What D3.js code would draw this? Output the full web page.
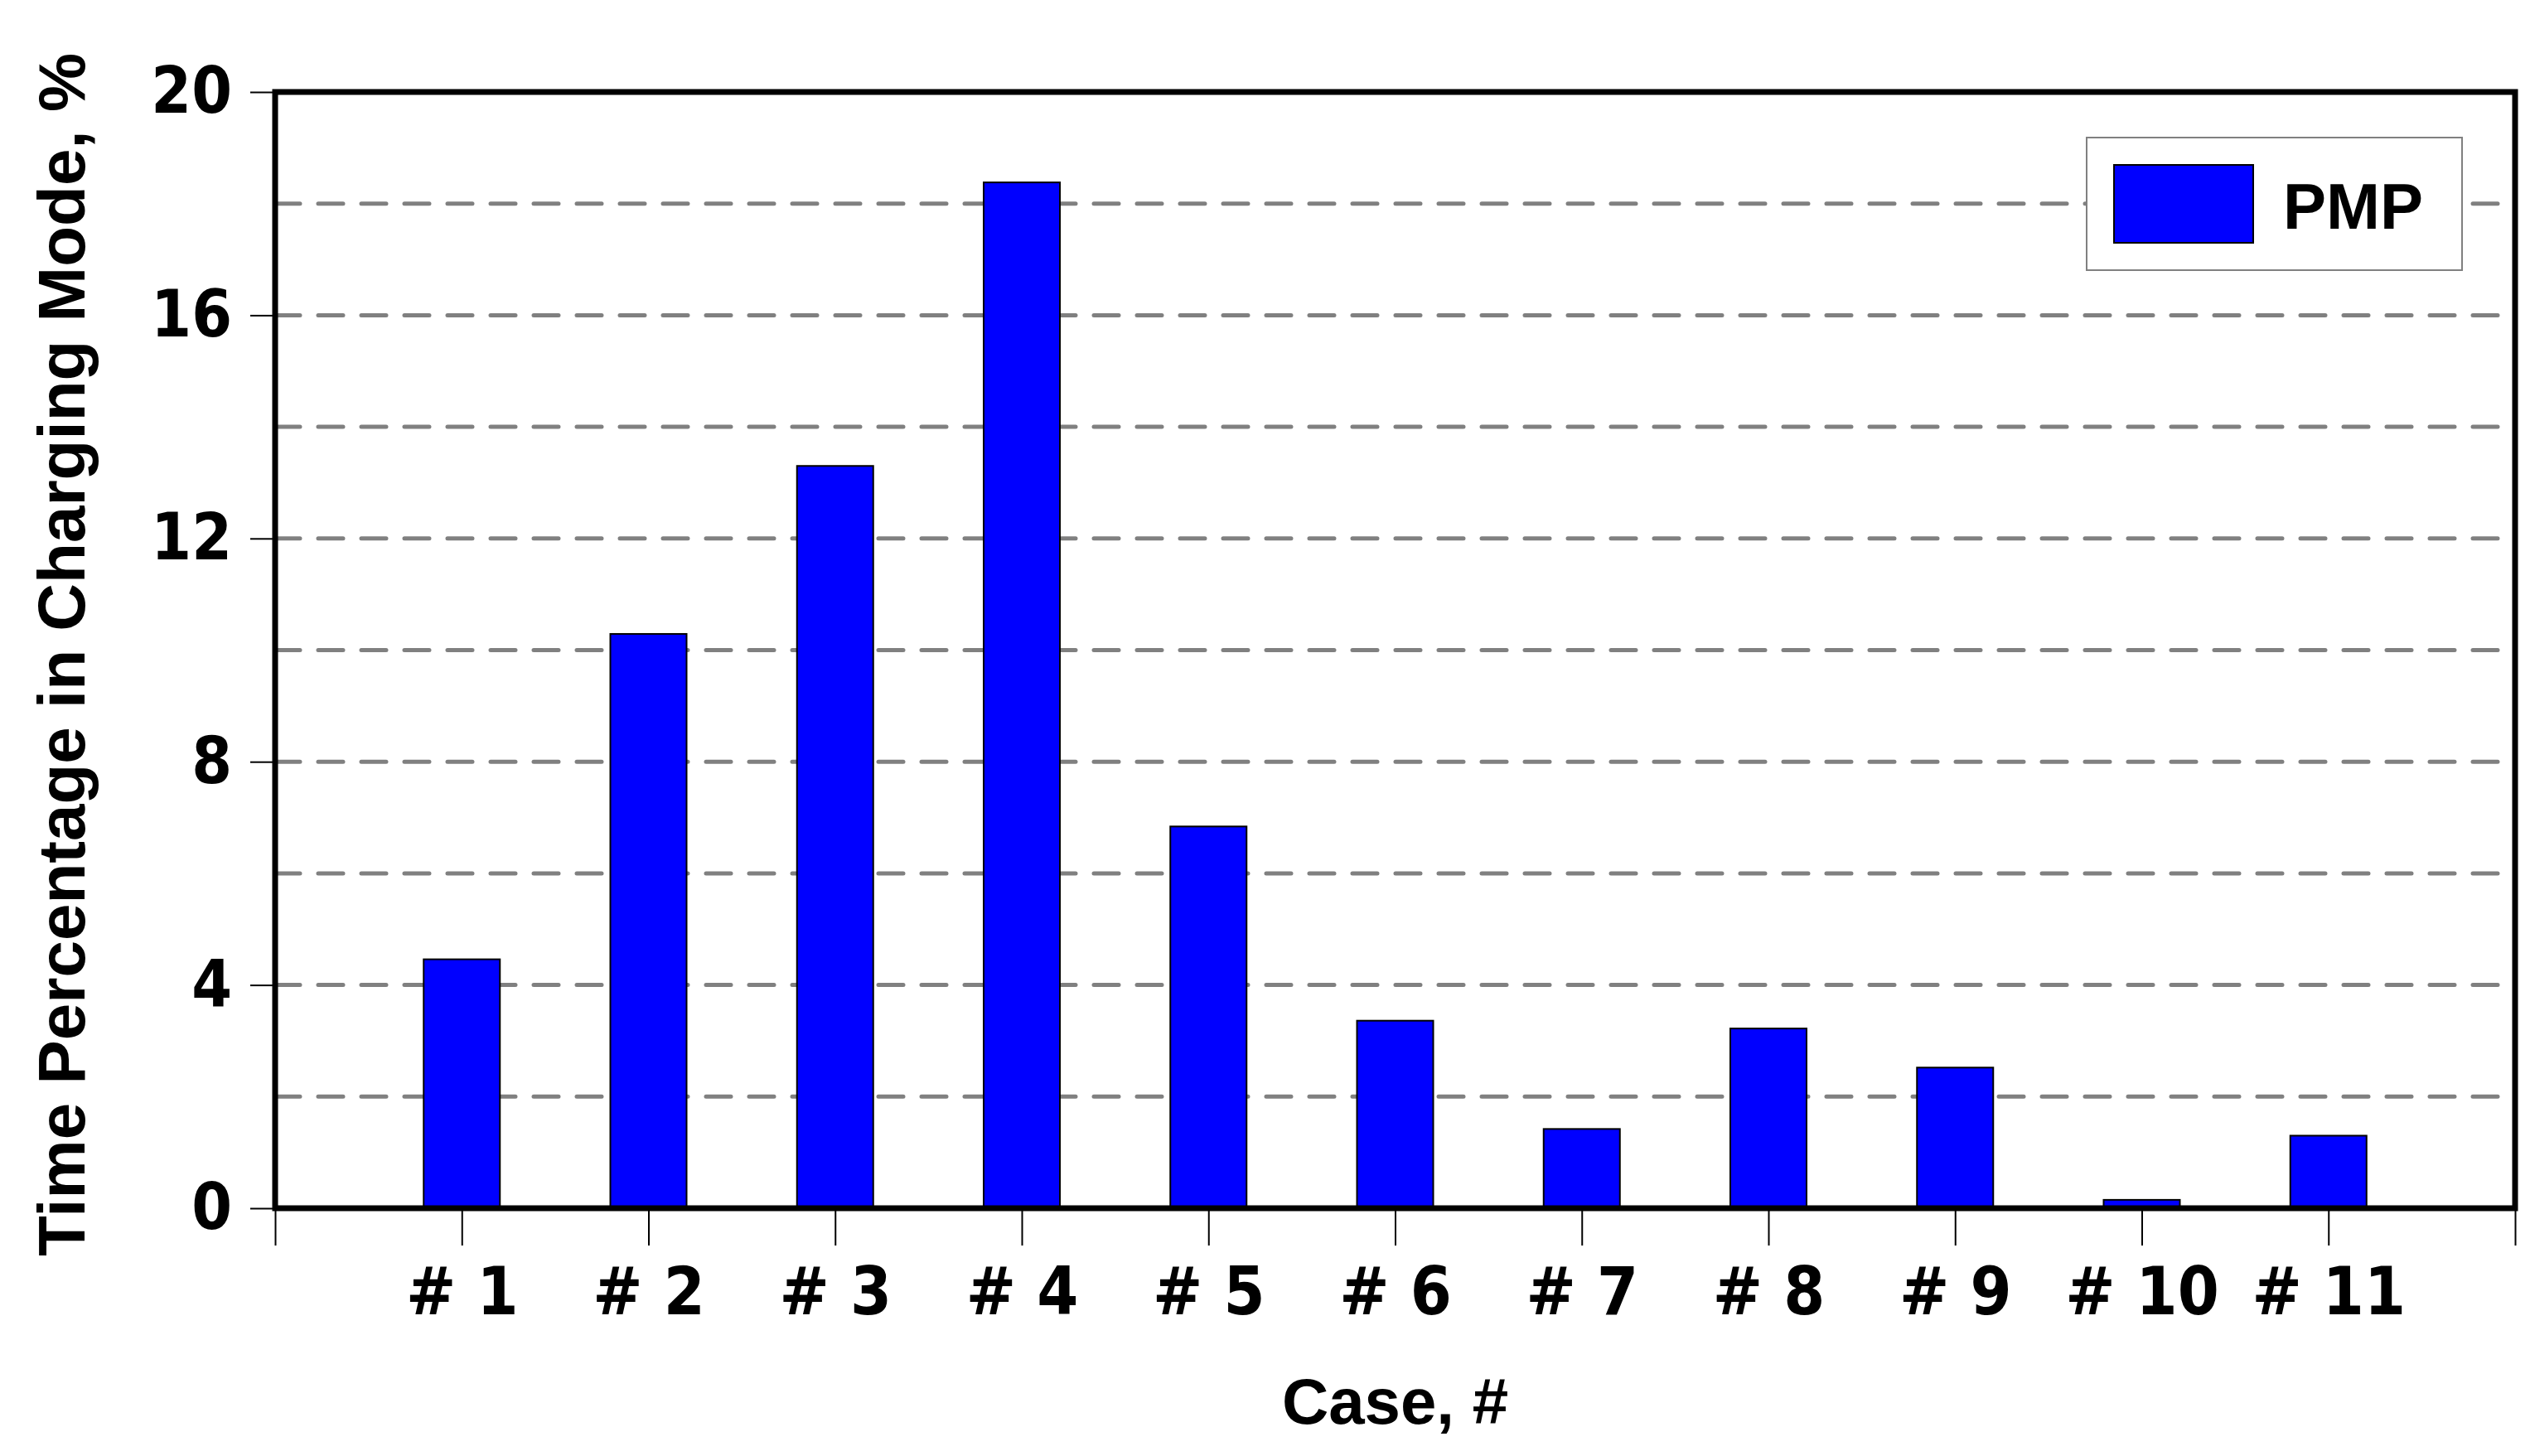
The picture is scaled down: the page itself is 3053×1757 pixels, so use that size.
<!DOCTYPE html>
<html><head><meta charset="utf-8">
<script src="https://cdn.jsdelivr.net/npm/d3@7"></script>
<style>body{margin:0;background:#fff}</style></head>
<body><svg id="c" width="3053" height="1757"></svg>
<script>
const categories = ["# 1","# 2","# 3","# 4","# 5","# 6","# 7","# 8","# 9","# 10","# 11"];
const values = [4.46,10.29,13.3,18.38,6.84,3.36,1.42,3.22,2.52,0.15,1.3];
const yTickLabels = [0,4,8,12,16,20];
const seriesName = "PMP";

const svg = d3.select("#c");
const L=332,R=3035,T=111,B=1458;
const x = d3.scaleLinear().domain([0,categories.length+1]).range([L,R]);
const y = d3.scaleLinear().domain([0,20]).range([B,T]);
const narrow = "'DejaVu Sans Condensed','Liberation Sans Narrow','Liberation Sans',Arial,sans-serif";
const bold = "'Liberation Sans',Arial,sans-serif";

// grid
svg.append("g").selectAll("line").data(d3.range(2,20,2)).join("line")
  .attr("x1",L).attr("x2",R).attr("y1",d=>y(d)).attr("y2",d=>y(d))
  .attr("stroke","#808080").attr("stroke-width",5).attr("stroke-dasharray","30,22").attr("stroke-linecap","round");

// bars
const bw = 92;
svg.append("g").selectAll("rect").data(values).join("rect")
  .attr("x",(d,i)=>x(i+1)-bw/2).attr("width",bw)
  .attr("y",d=>y(d)).attr("height",d=>B-y(d))
  .attr("fill","#0000ff").attr("stroke","#000").attr("stroke-width",2);

// y axis
const ya = svg.append("g").attr("transform",`translate(${L},0)`)
  .call(d3.axisLeft(y).tickValues(yTickLabels).tickSize(30).tickPadding(22));
ya.select(".domain").remove();
ya.selectAll("line").attr("stroke-width",2);
ya.selectAll("text").attr("font-family",narrow).attr("font-weight","bold").attr("font-size",78).attr("fill","#000");

// x axis
const xa = svg.append("g").attr("transform",`translate(0,${B})`)
  .call(d3.axisBottom(x).tickValues(d3.range(0,categories.length+2)).tickSize(45).tickPadding(26)
    .tickFormat(d=> (d>=1&&d<=categories.length)?categories[d-1]:""));
xa.select(".domain").remove();
xa.selectAll("line").attr("stroke-width",2);
xa.selectAll("text").attr("font-family",narrow).attr("font-weight","bold").attr("font-size",80).attr("fill","#000");

// frame
svg.append("rect").attr("x",L).attr("y",T).attr("width",R-L).attr("height",B-T)
  .attr("fill","none").attr("stroke","#000").attr("stroke-width",7);

// legend
const lg = svg.append("g");
lg.append("rect").attr("x",2518).attr("y",166).attr("width",453).attr("height",160).attr("fill","#fff").attr("stroke","#808080").attr("stroke-width",2);
lg.append("rect").attr("x",2551).attr("y",199).attr("width",168).attr("height",94).attr("fill","#0000ff").attr("stroke","#000").attr("stroke-width",2);
lg.append("text").attr("x",2755).attr("y",276).text(seriesName)
  .attr("font-family",bold).attr("font-weight","bold").attr("font-size",78);

// titles
svg.append("text").attr("x",(L+R)/2).attr("y",1718).attr("text-anchor","middle").text("Case, #")
  .attr("font-family",bold).attr("font-weight","bold").attr("font-size",78);
svg.append("text").attr("transform","translate(102,790) rotate(-90)").attr("text-anchor","middle")
  .text("Time Percentage in Charging Mode, %")
  .attr("font-family",bold).attr("font-weight","bold").attr("font-size",80);
</script></body></html>
